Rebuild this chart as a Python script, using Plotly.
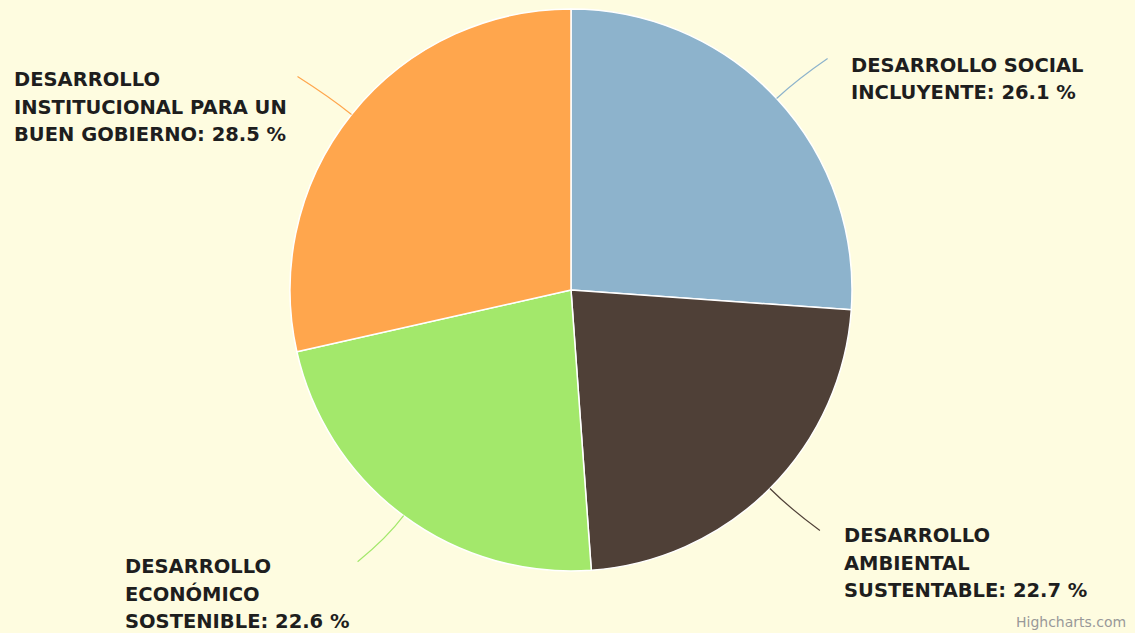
import math
import plotly.graph_objects as go

# ---- data ----
categories = [
    "DESARROLLO SOCIAL INCLUYENTE",
    "DESARROLLO AMBIENTAL SUSTENTABLE",
    "DESARROLLO ECONÓMICO SOSTENIBLE",
    "DESARROLLO INSTITUCIONAL PARA UN BUEN GOBIERNO",
]
label_lines = [
    ["DESARROLLO SOCIAL", "INCLUYENTE"],
    ["DESARROLLO", "AMBIENTAL", "SUSTENTABLE"],
    ["DESARROLLO", "ECONÓMICO", "SOSTENIBLE"],
    ["DESARROLLO", "INSTITUCIONAL PARA UN", "BUEN GOBIERNO"],
]
values = [26.1, 22.7, 22.6, 28.5]

# ---- style / layout ----
colors = ["#8DB3CC", "#4F4037", "#A3E86B", "#FFA64D"]
W, H = 1135, 633
cx, cy, R = 571, 290, 281
bg = "#FEFCE0"
# connector end offsets from slice edge, label text x
conn_off = [(51, -40), (50, 42), (-46, 46), (-54, -38)]
text_x = [849, 842, 123, 12]
first_line_dy = [7, 5, 5, 3]
line_h = 27.5

fig = go.Figure()
fig.add_trace(go.Pie(
    labels=categories, values=values, sort=False, direction="clockwise",
    rotation=0, textinfo="none", hoverinfo="label+percent",
    marker=dict(colors=colors, line=dict(color="#FFFFFF", width=1.5)),
    domain=dict(x=[(cx - R) / W, (cx + R) / W],
                y=[1 - (cy + R) / H, 1 - (cy - R) / H]),
    showlegend=False,
))

total = sum(values)
cum = 0.0
annotations = []
shapes = []
for i, v in enumerate(values):
    mid = (cum + v / 2) / total * 2 * math.pi
    cum += v
    sx = cx + R * math.sin(mid)
    sy = cy - R * math.cos(mid)
    qx = cx + (R + 28) * math.sin(mid)
    qy = cy - (R + 28) * math.cos(mid)
    ex = sx + conn_off[i][0]
    ey = sy + conn_off[i][1]
    shapes.append(dict(type="path", xref="x", yref="y",
                       path=f"M {sx:.1f},{sy:.1f} Q {qx:.1f},{qy:.1f} {ex:.1f},{ey:.1f}",
                       line=dict(color=colors[i], width=1.2)))
    lines = list(label_lines[i])
    lines[-1] = f"{lines[-1]}: {v} %"
    for k, ln in enumerate(lines):
        annotations.append(dict(
            x=text_x[i], y=ey + first_line_dy[i] + k * line_h, xref="x", yref="y",
            xanchor="left", yanchor="middle", align="left", showarrow=False, text=ln,
            font=dict(family="DejaVu Sans", size=19.5, color="#1E1E1E", weight="bold"),
        ))

annotations.append(dict(
    x=1128, y=622, xref="x", yref="y", xanchor="right", yanchor="middle",
    showarrow=False, text="Highcharts.com",
    font=dict(family="DejaVu Sans", size=14, color="#999999"),
))

fig.update_layout(
    width=W, height=H, margin=dict(l=0, r=0, t=0, b=0),
    paper_bgcolor=bg, plot_bgcolor=bg,
    xaxis=dict(range=[0, W], visible=False, fixedrange=True),
    yaxis=dict(range=[H, 0], visible=False, fixedrange=True),
    annotations=annotations, shapes=shapes,
)
fig.write_html("out.html", config={"displayModeBar": False},
               post_script="document.body.style.margin='0';document.body.style.overflow='hidden';")
